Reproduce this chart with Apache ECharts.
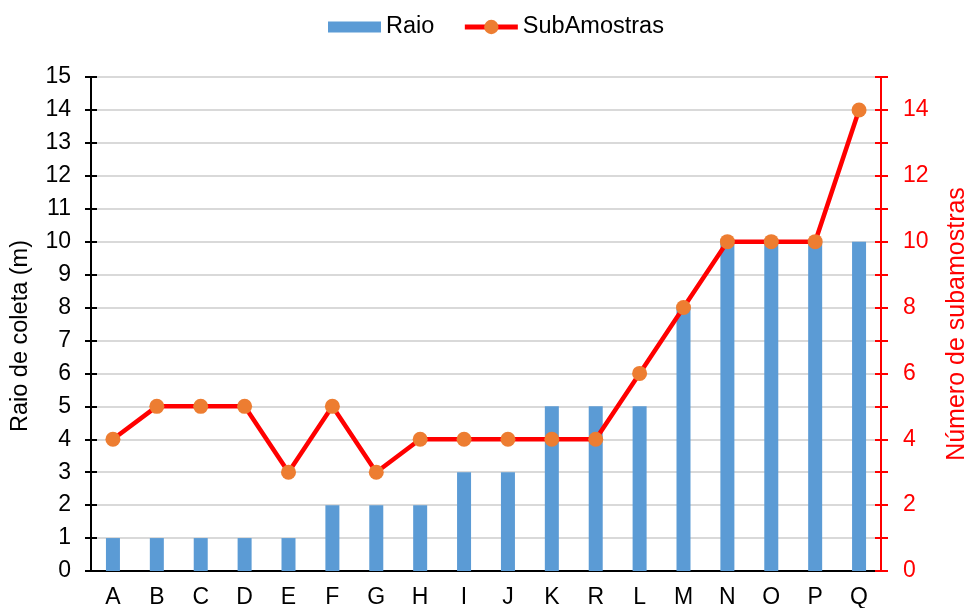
<!DOCTYPE html>
<html><head><meta charset="utf-8">
<script src="https://cdn.jsdelivr.net/npm/echarts@6/dist/echarts.min.js"></script>
<style>html,body{margin:0;padding:0;background:#fff}#c{width:967px;height:608px}</style>
</head><body><div id="c"></div>
<script>
const categories = ['A','B','C','D','E','F','G','H','I','J','K','R','L','M','N','O','P','Q'];
const raio = [1,1,1,1,1,2,2,2,3,3,5,5,5,8,10,10,10,10];
const subAmostras = [4,5,5,5,3,5,3,4,4,4,4,4,6,8,10,10,10,14];
const font = 'Liberation Sans, Arial, sans-serif';
const chart = echarts.init(document.getElementById('c'));
const innerTicks = (color) => ({
  type: 'value', min: 0, max: 15, interval: 1,
  axisLine: {show: false},
  axisTick: {show: true, inside: true, length: 6, lineStyle: {color: color, width: 2}},
  axisLabel: {show: false}, splitLine: {show: false}
});
chart.setOption({
  animation: false,
  textStyle: {fontFamily: font},
  legend: {
    top: 10, left: 323, itemGap: 28, itemWidth: 53, itemHeight: 18,
    textStyle: {fontSize: 23.5, color: '#000', fontFamily: font},
    data: [
      {name: 'Raio', icon: 'path://M0,0M53,18M0,3.5L53,3.5L53,14.5L0,14.5Z', itemStyle: {color: '#5b9bd5'}},
      {name: 'SubAmostras', lineStyle: {width: 5, color: '#ff0000'}}
    ]
  },
  grid: {left: 91, right: 86, top: 77, bottom: 37, containLabel: false, outerBoundsMode: 'none'},
  xAxis: {
    type: 'category', data: categories,
    axisLine: {lineStyle: {color: '#000', width: 2}},
    axisTick: {alignWithLabel: true, length: 7, lineStyle: {color: '#000', width: 2}},
    axisLabel: {fontSize: 23, color: '#000', margin: 15, fontFamily: font}
  },
  yAxis: [
    {
      type: 'value', min: 0, max: 15, interval: 1,
      name: 'Raio de coleta (m)', nameLocation: 'middle', nameGap: 58, nameRotate: 90,
      nameTextStyle: {fontSize: 23.5, color: '#000', fontFamily: font, padding: [0, 24, 0, 0]},
      axisLine: {show: true, lineStyle: {color: '#000', width: 2}},
      axisTick: {show: true, length: 6, lineStyle: {color: '#000', width: 2}},
      axisLabel: {fontSize: 23, color: '#000', margin: 20, fontFamily: font},
      splitLine: {show: true, lineStyle: {color: '#d9d9d9', width: 2}}
    },
    {
      type: 'value', min: 0, max: 15, interval: 1, position: 'right',
      name: 'Número de subamostras', nameLocation: 'middle', nameGap: 64, nameRotate: 90,
      nameTextStyle: {fontSize: 25, color: '#ff0000', fontFamily: font},
      axisLine: {show: true, lineStyle: {color: '#ff0000', width: 2}},
      axisTick: {show: true, length: 7, lineStyle: {color: '#ff0000', width: 2}},
      axisLabel: {fontSize: 23, color: '#ff0000', margin: 22, fontFamily: font,
        formatter: v => (v % 2 === 0 ? String(v) : '')},
      splitLine: {show: false}
    },
    Object.assign(innerTicks('#000'), {position: 'left'}),
    Object.assign(innerTicks('#ff0000'), {position: 'right'})
  ],
  series: [
    {
      name: 'Raio', type: 'bar', data: raio, yAxisIndex: 0, barWidth: 14,
      itemStyle: {color: '#5b9bd5'}, z: 2
    },
    {
      name: 'SubAmostras', type: 'line', data: subAmostras, yAxisIndex: 1,
      symbol: 'circle', symbolSize: 15,
      lineStyle: {color: '#ff0000', width: 4.5},
      itemStyle: {color: '#ed7d31', borderWidth: 0},
      z: 3
    }
  ]
});
</script></body></html>
